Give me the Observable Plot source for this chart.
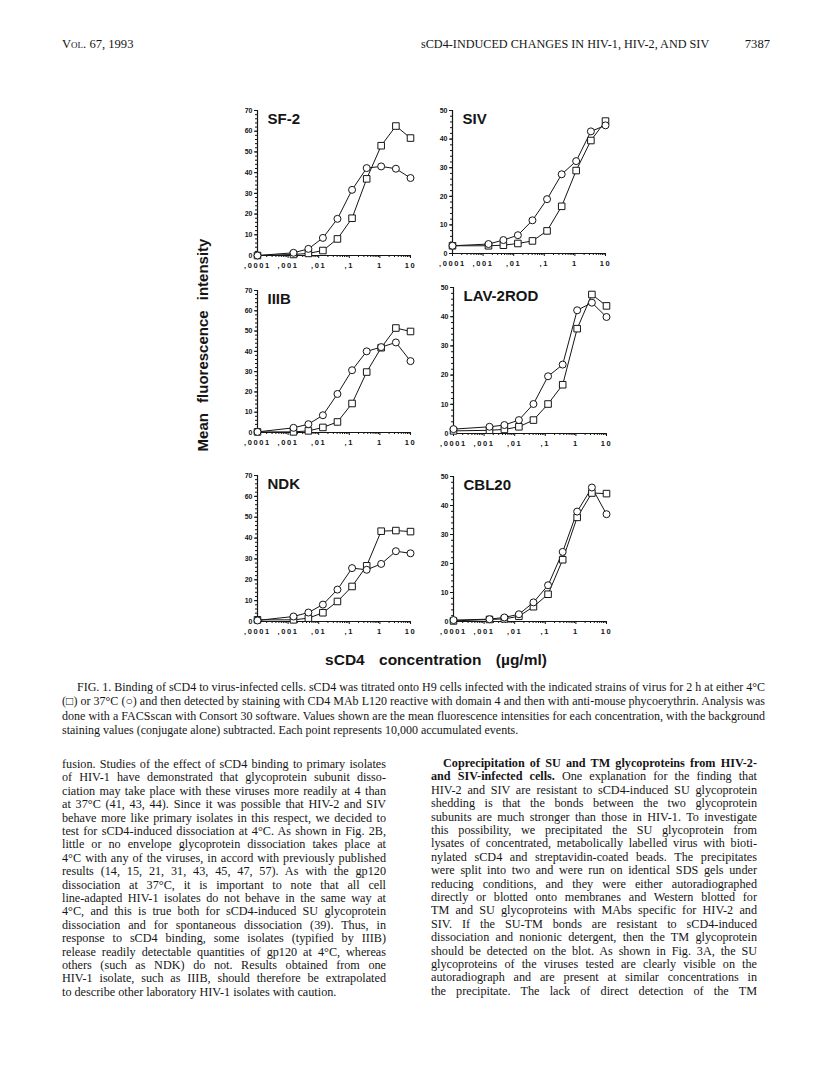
<!DOCTYPE html>
<html><head><meta charset="utf-8">
<script src="https://cdn.jsdelivr.net/npm/d3@7"></script>
<script src="https://cdn.jsdelivr.net/npm/@observablehq/plot@0.6"></script>
<style>
body{margin:0;background:#fff;}
#page{position:relative;width:816px;height:1076px;overflow:hidden;background:#fff;color:#151515;}
.serif{font-family:"Liberation Serif","Times New Roman",serif;}
.sans{font-family:"Liberation Sans",Arial,sans-serif;}
.abs{position:absolute;white-space:nowrap;}
.jl{text-align:justify;text-align-last:justify;}
.panel{position:absolute;}
.panel svg{overflow:visible;}
.panel g[aria-label="x-axis tick label"] text{letter-spacing:1.6px;}
</style></head><body><div id="page"></div>
<script>
// ---- data ----
const conc = [0.0001, 0.0015, 0.0046, 0.0137, 0.041, 0.123, 0.37, 1.1, 3.33, 10]; // µg/ml
const xTicks = [0.0001, 0.001, 0.01, 0.1, 1, 10];
const xTickLabels = [",0001", ",001", ",01", ",1", "1", "10"];
const panelNames = ["SF-2", "SIV", "IIIB", "LAV-2ROD", "NDK", "CBL20"];
const panelYMax = [70, 50, 70, 50, 70, 50];
// 4°C (squares) and 37°C (circles)
const sf2_4C  = [0, 0.5, 1.0, 2.4, 8.0, 18.0, 37.0, 53.0, 62.5, 56.7];
const sf2_37C = [0, 1.3, 3.2, 8.5, 17.7, 31.7, 42.2, 43.0, 41.9, 37.4];
const siv_4C  = [2.7, 2.7, 2.9, 3.5, 4.4, 7.9, 16.5, 29.0, 39.5, 46.3];
const siv_37C = [2.7, 3.3, 4.7, 6.4, 11.6, 19.0, 27.7, 32.3, 42.7, 44.8];
const iiib_4C  = [0.3, 0.3, 0.8, 2.5, 5.2, 14.3, 29.8, 41.8, 51.5, 49.8];
const iiib_37C = [0.3, 2.3, 4.1, 8.5, 19.0, 30.7, 40.0, 42.1, 44.4, 35.2];
const lav_4C  = [0.9, 1.1, 1.4, 2.3, 4.6, 10.1, 16.7, 35.9, 47.6, 43.7];
const lav_37C = [1.5, 2.3, 2.9, 4.6, 10.1, 19.6, 23.6, 42.2, 44.8, 39.9];
const ndk_4C  = [0.8, 0.8, 1.6, 4.2, 9.6, 16.8, 26.7, 43.3, 43.6, 43.1];
const ndk_37C = [0.5, 2.4, 4.3, 8.1, 15.3, 25.6, 24.8, 27.6, 33.7, 32.7];
const cbl_4C  = [0.2, 0.7, 0.9, 1.8, 5.1, 9.4, 21.3, 35.9, 44.3, 44.1];
const cbl_37C = [0.5, 0.8, 1.4, 2.5, 6.6, 12.5, 24.0, 37.9, 46.2, 37.0];

const headerLeft = "Vol. 67, 1993";
const headerRight = "sCD4-INDUCED CHANGES IN HIV-1, HIV-2, AND SIV";
const pageNumber = "7387";
const yLabel = "Mean fluorescence intensity";
const xLabel = "sCD4 concentration (\u00b5g/ml)";
const captionLines = [
  "FIG. 1. Binding of sCD4 to virus-infected cells. sCD4 was titrated onto H9 cells infected with the indicated strains of virus for 2 h at either 4°C",
  "(\u25a1) or 37°C (\u25cb) and then detected by staining with CD4 MAb L120 reactive with domain 4 and then with anti-mouse phycoerythrin. Analysis was",
  "done with a FACSscan with Consort 30 software. Values shown are the mean fluorescence intensities for each concentration, with the background",
  "staining values (conjugate alone) subtracted. Each point represents 10,000 accumulated events."
];
const leftColumn = [
  "fusion. Studies of the effect of sCD4 binding to primary isolates",
  "of HIV-1 have demonstrated that glycoprotein subunit disso-",
  "ciation may take place with these viruses more readily at 4 than",
  "at 37°C (41, 43, 44). Since it was possible that HIV-2 and SIV",
  "behave more like primary isolates in this respect, we decided to",
  "test for sCD4-induced dissociation at 4°C. As shown in Fig. 2B,",
  "little or no envelope glycoprotein dissociation takes place at",
  "4°C with any of the viruses, in accord with previously published",
  "results (14, 15, 21, 31, 43, 45, 47, 57). As with the gp120",
  "dissociation at 37°C, it is important to note that all cell",
  "line-adapted HIV-1 isolates do not behave in the same way at",
  "4°C, and this is true both for sCD4-induced SU glycoprotein",
  "dissociation and for spontaneous dissociation (39). Thus, in",
  "response to sCD4 binding, some isolates (typified by IIIB)",
  "release readily detectable quantities of gp120 at 4°C, whereas",
  "others (such as NDK) do not. Results obtained from one",
  "HIV-1 isolate, such as IIIB, should therefore be extrapolated",
  "to describe other laboratory HIV-1 isolates with caution."
];
const rightColumn = [
  "<b>Coprecipitation of SU and TM glycoproteins from HIV-2-</b>",
  "<b>and SIV-infected cells.</b> One explanation for the finding that",
  "HIV-2 and SIV are resistant to sCD4-induced SU glycoprotein",
  "shedding is that the bonds between the two glycoprotein",
  "subunits are much stronger than those in HIV-1. To investigate",
  "this possibility, we precipitated the SU glycoprotein from",
  "lysates of concentrated, metabolically labelled virus with bioti-",
  "nylated sCD4 and streptavidin-coated beads. The precipitates",
  "were split into two and were run on identical SDS gels under",
  "reducing conditions, and they were either autoradiographed",
  "directly or blotted onto membranes and Western blotted for",
  "TM and SU glycoproteins with MAbs specific for HIV-2 and",
  "SIV. If the SU-TM bonds are resistant to sCD4-induced",
  "dissociation and nonionic detergent, then the TM glycoprotein",
  "should be detected on the blot. As shown in Fig. 3A, the SU",
  "glycoproteins of the viruses tested are clearly visible on the",
  "autoradiograph and are present at similar concentrations in",
  "the precipitate. The lack of direct detection of the TM"
];

// ---- layout ----
const page = document.getElementById("page");
function addDiv(cls, html, css) {
  const d = document.createElement("div");
  d.className = cls;
  d.innerHTML = html;
  Object.assign(d.style, css);
  page.appendChild(d);
  return d;
}
// a justified line: if its natural width is too wide, tighten letter spacing
function addLine(html, left, top, width, size, justify) {
  const d = addDiv("abs serif", html, {left: left + "px", top: top + "px", fontSize: size + "px"});
  const natural = d.getBoundingClientRect().width;
  const chars = d.textContent.length;
  if (natural > width) d.style.letterSpacing = (-(natural - width + 1) / chars) + "px";
  d.style.width = width + "px";
  if (justify) d.classList.add("jl");
  return d;
}

// header
addDiv("abs serif", headerLeft, {left: "62px", top: "37px", fontSize: "12.6px", fontVariant: "small-caps"});
addDiv("abs serif", headerRight, {left: "421px", top: "37px", fontSize: "12.2px"});
addDiv("abs serif", pageNumber, {left: "740px", top: "37px", fontSize: "12.6px", width: "30px", textAlign: "right"});

// panels: plot-area rectangles [x0, y0, x1, y1] in page pixels
const panelRects = [
  [257, 110, 410, 255], [452, 110, 605, 253],
  [257, 290, 410, 432], [453, 287, 606, 433],
  [257, 475, 410, 621], [453, 476, 606, 621]
];
const panelData = [
  [sf2_4C, sf2_37C], [siv_4C, siv_37C], [iiib_4C, iiib_37C],
  [lav_4C, lav_37C], [ndk_4C, ndk_37C], [cbl_4C, cbl_37C]
];
const ML = 30, MR = 14, MT = 10, MB = 22;
const labelMap = new Map(xTicks.map((t, i) => [t, xTickLabels[i]]));
const xMinor = [];
for (let e = -4; e < 1; e++) for (let k = 2; k <= 9; k++) xMinor.push(k * Math.pow(10, e));
const ink = "#151515";

panelNames.forEach((name, i) => {
  const [x0, y0, x1, y1] = panelRects[i];
  const yMax = panelYMax[i];
  const sq = conc.map((c, j) => ({x: c, y: panelData[i][0][j]}));
  const ci = conc.map((c, j) => ({x: c, y: panelData[i][1][j]}));
  const yTicks = d3.range(0, yMax + 1, 10);
  const yMinor = d3.range(0, yMax + 1, 2);
  const chart = Plot.plot({
    width: x1 - x0 + ML + MR,
    height: y1 - y0 + MT + MB,
    marginLeft: ML, marginRight: MR, marginTop: MT, marginBottom: MB,
    x: {type: "log", domain: [xTicks[0], xTicks[xTicks.length - 1]], axis: null, label: null},
    y: {domain: [0, yMax], axis: null, label: null},
    style: {fontFamily: "'Liberation Sans', Arial, sans-serif", fontWeight: "bold", background: "transparent", color: ink, overflow: "visible"},
    marks: [
      Plot.ruleX([xTicks[0]], {stroke: ink, strokeWidth: 1.2}),
      Plot.ruleY([yTicks[0]], {stroke: ink, strokeWidth: 1.2}),
      Plot.axisY(yMinor, {tickSize: 2, tickFormat: () => "", label: null, stroke: ink}),
      Plot.axisY(yTicks, {tickSize: 3, tickPadding: 2, fontSize: 7, label: null, stroke: ink, fill: ink}),
      Plot.axisX(xMinor, {tickSize: 2, tickFormat: () => "", label: null, stroke: ink}),
      Plot.axisX(xTicks, {tickSize: 3, tickPadding: 4, fontSize: 7.5, tickFormat: d => labelMap.get(d), label: null, stroke: ink, fill: ink}),
      Plot.line(sq, {x: "x", y: "y", stroke: ink, strokeWidth: 1}),
      Plot.line(ci, {x: "x", y: "y", stroke: ink, strokeWidth: 1}),
      Plot.dot(sq, {x: "x", y: "y", symbol: "square", r: 3.7, fill: "white", stroke: ink, strokeWidth: 1}),
      Plot.dot(ci, {x: "x", y: "y", symbol: "circle", r: 3.5, fill: "white", stroke: ink, strokeWidth: 1}),
      Plot.text([name], {frameAnchor: "top-left", dx: 10, dy: 3, fontSize: 15, fontWeight: "bold", fill: ink, style: "letter-spacing:1.2px"})
    ]
  });
  const wrap = document.createElement("div");
  wrap.className = "panel";
  wrap.style.left = (x0 - ML) + "px";
  wrap.style.top = (y0 - MT) + "px";
  wrap.appendChild(chart);
  page.appendChild(wrap);
});

// axis titles
addDiv("abs sans", yLabel, {left: "202px", top: "345px", fontSize: "15px", fontWeight: "bold", wordSpacing: "6px",
  transform: "translate(-50%,-50%) rotate(-90deg)"});
addDiv("abs sans", xLabel, {left: "436px", top: "660px", fontSize: "15.5px", fontWeight: "bold", wordSpacing: "10px",
  transform: "translate(-50%,-50%)"});

// caption
captionLines.forEach((t, i) => {
  const last = i === captionLines.length - 1;
  addLine(t, i === 0 ? 77 : 62, 680 + i * 14.3, i === 0 ? 688 : 703, 12, !last);
});

// body text columns
const LH = 13.4;
leftColumn.forEach((t, i) => {
  addLine(t, 62, 757 + i * LH, 324, 12.2, i !== leftColumn.length - 1);
});
rightColumn.forEach((t, i) => {
  addLine(t, i === 0 ? 443 : 431, 756 + i * LH, i === 0 ? 314 : 326, 12.2, true);
});
</script>
</body></html>
